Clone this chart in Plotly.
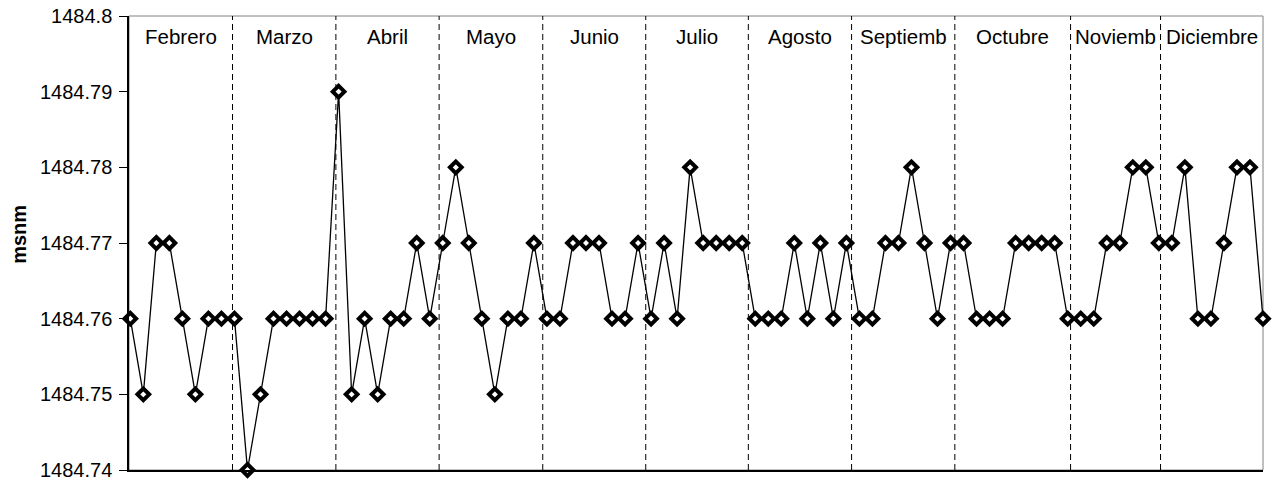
import plotly.graph_objects as go

# niveles (msnm), lecturas en orden desde febrero hasta diciembre
niveles = [
    1484.76, 1484.75, 1484.77, 1484.77, 1484.76, 1484.75, 1484.76, 1484.76,  # febrero
    1484.76, 1484.74, 1484.75, 1484.76, 1484.76, 1484.76, 1484.76, 1484.76,  # marzo
    1484.79, 1484.75, 1484.76, 1484.75, 1484.76, 1484.76, 1484.77, 1484.76,  # abril
    1484.77, 1484.78, 1484.77, 1484.76, 1484.75, 1484.76, 1484.76, 1484.77,  # mayo
    1484.76, 1484.76, 1484.77, 1484.77, 1484.77, 1484.76, 1484.76, 1484.77,  # junio
    1484.76, 1484.77, 1484.76, 1484.78, 1484.77, 1484.77, 1484.77, 1484.77,  # julio
    1484.76, 1484.76, 1484.76, 1484.77, 1484.76, 1484.77, 1484.76, 1484.77,  # agosto
    1484.76, 1484.76, 1484.77, 1484.77, 1484.78, 1484.77, 1484.76, 1484.77,  # septiembre
    1484.77, 1484.76, 1484.76, 1484.76, 1484.77, 1484.77, 1484.77, 1484.77, 1484.76,  # octubre
    1484.76, 1484.76, 1484.77, 1484.77, 1484.78, 1484.78, 1484.77,  # noviembre
    1484.77, 1484.78, 1484.76, 1484.76, 1484.77, 1484.78, 1484.78, 1484.76,  # diciembre
]
lecturas = list(range(len(niveles)))

meses = ["Febrero", "Marzo", "Abril", "Mayo", "Junio", "Julio", "Agosto",
         "Septiemb", "Octubre", "Noviemb", "Diciembre"]
# posicion (en lecturas) de la linea que separa cada mes
cortes = [7.85, 15.79, 23.72, 31.68, 39.59, 47.47, 55.40, 63.33, 72.22, 79.13]

y_ticks = [1484.74, 1484.75, 1484.76, 1484.77, 1484.78, 1484.79, 1484.80]
y_ticktext = ["1484.74", "1484.75", "1484.76", "1484.77", "1484.78", "1484.79", "1484.8"]

x_min, x_max = -0.1, 87.0
fuente = "Liberation Sans, Arial, sans-serif"

fig = go.Figure()
fig.add_trace(go.Scatter(
    x=lecturas, y=niveles, mode="lines+markers", cliponaxis=False,
    line=dict(color="black", width=1.3),
    marker=dict(symbol="diamond", size=9, color="white",
                line=dict(color="black", width=4)),
    showlegend=False, hoverinfo="skip"))

# marco del area de trazado
fig.add_shape(type="rect", xref="paper", yref="paper", x0=0, x1=1, y0=0, y1=1,
              line=dict(color="#808080", width=1), layer="below")

bordes = [x_min] + cortes + [x_max]
for c in cortes:
    fig.add_shape(type="line", xref="x", yref="paper", x0=c, x1=c, y0=0, y1=1,
                  line=dict(color="black", width=1, dash="6px,4px"), layer="below")
for i, m in enumerate(meses):
    fig.add_annotation(x=(bordes[i] + bordes[i + 1]) / 2, xref="x",
                       y=0.955, yref="paper", text=m, showarrow=False,
                       xanchor="center", yanchor="middle",
                       font=dict(family=fuente, size=20.5, color="black"))

fig.add_annotation(x=-0.097, xref="paper", y=0.518, yref="paper", text="<b>msnm</b>",
                   textangle=-90, showarrow=False, xanchor="center", yanchor="middle",
                   font=dict(family=fuente, size=20, color="black"))

fig.update_layout(
    width=1273, height=482,
    margin=dict(l=129, r=10, t=16, b=12),
    plot_bgcolor="white", paper_bgcolor="white",
    font=dict(family=fuente, size=20, color="black"),
    xaxis=dict(range=[x_min, x_max], showgrid=False, zeroline=False,
               showticklabels=False, ticks="", showline=True, automargin=False,
               linecolor="black", linewidth=1.5),
    yaxis=dict(range=[1484.74, 1484.80], tickvals=y_ticks, ticktext=y_ticktext,
               showgrid=False, zeroline=False, ticks="outside", ticklen=8,
               tickcolor="black", tickwidth=1, showline=True, linecolor="black",
               linewidth=1.5, ticklabelstandoff=3, automargin=False,
               ticklabeloverflow="allow",
               tickfont=dict(family=fuente, size=20, color="black")),
)

# sin margen del body para que la figura ocupe la ventana completa
fig.write_html("out.html", config={"displayModeBar": False},
               post_script="document.body.style.margin='0';")
